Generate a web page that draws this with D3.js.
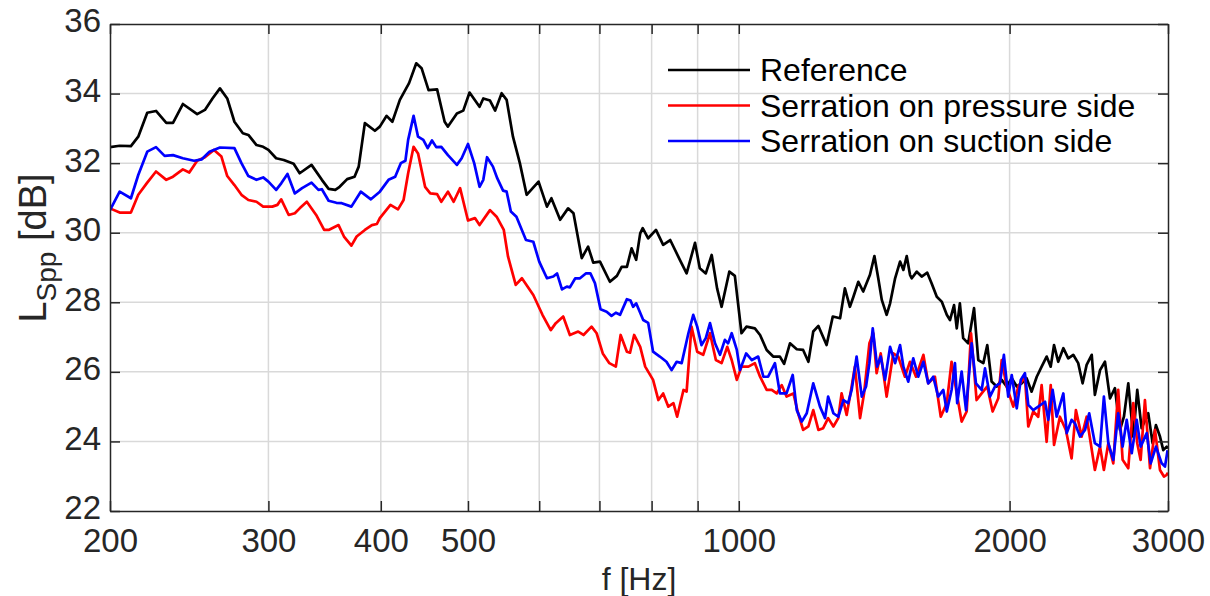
<!DOCTYPE html>
<html>
<head>
<meta charset="utf-8">
<script src="https://cdn.jsdelivr.net/npm/d3@7"></script>
<style>
  html, body { margin: 0; padding: 0; background: #fff; }
  svg { display: block; font-family: 'Liberation Sans', Arial, sans-serif; }
  .grid line { stroke: #d9d9d9; stroke-width: 1.5; }
  .axis path, .axis line { stroke: #262626; stroke-width: 1.5; }
  .axis text { fill: #262626; font-size: 33px; }
  .series { fill: none; stroke-width: 2.7; stroke-linejoin: round; }
</style>
</head>
<body>
<div id="chart"></div>
<script>
/* global d3 */
(function () {
  'use strict'

  // Reference (black)
  var refFreq = [200, 205, 211, 215, 220, 225, 231, 235, 241, 250, 255, 260, 265, 270, 275, 281, 285, 291, 296, 300,
    306, 312, 320, 325, 335, 344, 350, 356, 360, 367, 374, 378, 384, 394, 399, 406, 412, 420, 430, 438,
    444, 452, 462, 471, 475, 486, 494, 502, 515, 520, 529, 536, 545, 552, 561, 571, 581, 599, 612, 619,
    633, 646, 655, 669, 680, 689, 701, 719, 732, 741, 751, 760, 769, 777, 782, 793, 809, 824, 839, 860,
    875, 894, 905, 919, 933, 946, 957, 976, 990, 1007, 1020, 1042, 1056, 1074, 1092, 1111, 1123, 1140, 1160, 1179,
    1195, 1210, 1226, 1252, 1272, 1296, 1312, 1329, 1341, 1358, 1375, 1399, 1415, 1429, 1442, 1460, 1473, 1492, 1511, 1524,
    1537, 1550, 1557, 1577, 1597, 1620, 1638, 1660, 1681, 1703, 1717, 1735, 1747, 1761, 1776, 1799, 1826, 1846, 1870, 1889,
    1910, 1935, 1960, 1985, 2011, 2037, 2063, 2089, 2116, 2144, 2171, 2199, 2222, 2241, 2265, 2295, 2324, 2354, 2384, 2411,
    2436, 2468, 2488, 2521, 2553, 2586, 2619, 2653, 2680, 2710, 2745, 2773, 2804, 2852, 2884, 2909, 2939, 2964, 2990, 3000]
  var refLevel = [32.46, 32.50, 32.49, 32.76, 33.45, 33.50, 33.16, 33.16, 33.70, 33.41, 33.53, 33.86, 34.15, 33.86, 33.19, 32.86, 32.81, 32.52, 32.47, 32.38,
    32.14, 32.09, 31.98, 31.71, 31.95, 31.52, 31.26, 31.23, 31.32, 31.54, 31.61, 31.90, 33.15, 32.93, 33.05, 33.36, 33.19, 33.82, 34.30, 34.87,
    34.73, 34.10, 34.12, 33.19, 33.05, 33.43, 33.51, 34.03, 33.62, 33.86, 33.80, 33.51, 34.01, 33.82, 32.76, 32.00, 31.09, 31.47, 30.75, 30.99,
    30.37, 30.70, 30.56, 29.27, 29.60, 29.14, 29.17, 28.59, 28.76, 29.02, 29.02, 29.55, 29.22, 29.98, 30.13, 29.84, 30.08, 29.65, 29.79, 29.22,
    28.83, 29.71, 28.98, 28.83, 29.36, 28.40, 27.87, 28.88, 28.76, 27.11, 27.30, 27.25, 27.06, 26.63, 26.44, 26.44, 26.23, 26.82, 26.65, 26.63,
    26.29, 27.16, 27.32, 26.77, 27.59, 27.54, 28.40, 27.87, 28.16, 28.59, 28.31, 28.79, 29.33, 28.69, 28.07, 27.64, 27.97, 28.69, 29.17, 28.93,
    29.33, 28.79, 28.69, 28.88, 28.74, 28.85, 28.55, 28.16, 28.02, 27.64, 27.49, 27.92, 27.25, 27.97, 26.97, 26.82, 27.83, 26.34, 26.25, 26.77,
    25.72, 25.58, 25.77, 25.58, 25.82, 25.58, 25.67, 25.82, 25.43, 25.86, 26.15, 26.44, 26.15, 26.77, 26.29, 26.68, 26.39, 26.49, 26.25, 25.67,
    26.20, 26.49, 25.34, 26.05, 26.29, 25.24, 25.53, 24.33, 24.71, 25.67, 24.14, 25.48, 24.38, 24.81, 23.95, 24.47, 24.14, 23.75, 23.85, 23.80]

  // Serration on pressure side (red)
  var pressFreq = [200, 205, 211, 215, 220, 225, 231, 235, 241, 245, 250, 255, 261, 266, 270, 275, 280, 285, 291, 296,
    303, 307, 310, 316, 321, 325, 331, 339, 346, 350, 359, 364, 371, 376, 384, 391, 396, 399, 410, 418,
    424, 429, 435, 440, 448, 454, 462, 467, 475, 482, 490, 500, 509, 515, 529, 538, 548, 554, 565, 574,
    591, 605, 618, 626, 638, 649, 663, 672, 686, 695, 706, 718, 730, 739, 751, 757, 765, 777, 787, 803,
    814, 824, 835, 846, 854, 868, 875, 886, 899, 913, 929, 943, 957, 971, 982, 995, 1007, 1025, 1042, 1056,
    1074, 1088, 1102, 1116, 1130, 1150, 1164, 1179, 1195, 1210, 1226, 1241, 1257, 1274, 1290, 1301, 1318, 1335, 1346, 1364,
    1378, 1397, 1411, 1423, 1438, 1460, 1485, 1504, 1530, 1550, 1574, 1604, 1624, 1652, 1677, 1703, 1724, 1747, 1769, 1792,
    1812, 1838, 1862, 1889, 1915, 1943, 1960, 1985, 2019, 2045, 2080, 2098, 2125, 2152, 2171, 2199, 2222, 2241, 2275, 2310,
    2344, 2370, 2405, 2436, 2488, 2521, 2546, 2575, 2608, 2641, 2671, 2710, 2745, 2773, 2797, 2828, 2865, 2902, 2939, 2969, 2990, 3000]
  var pressLevel = [30.70, 30.58, 30.58, 31.09, 31.44, 31.76, 31.52, 31.61, 31.82, 31.73, 32.07, 32.17, 32.38, 32.19, 31.63, 31.37, 31.09, 30.94, 30.89, 30.75,
    30.75, 30.80, 30.96, 30.51, 30.56, 30.70, 30.89, 30.51, 30.08, 30.08, 30.22, 29.89, 29.63, 29.89, 30.08, 30.22, 30.25, 30.42, 30.80, 30.67,
    30.94, 31.71, 32.47, 32.28, 31.32, 31.13, 31.11, 30.89, 31.18, 30.89, 31.28, 30.35, 30.42, 30.22, 30.65, 30.46, 30.08, 29.31, 28.50, 28.69,
    28.21, 27.64, 27.20, 27.40, 27.59, 27.06, 27.16, 27.06, 27.30, 27.11, 26.53, 26.25, 26.15, 27.06, 26.58, 26.55, 27.06, 26.72, 26.15, 25.77,
    25.19, 25.38, 25.00, 25.10, 24.71, 25.48, 25.43, 27.30, 26.58, 26.49, 27.11, 26.34, 26.25, 26.72, 26.34, 25.77, 26.15, 26.15, 26.25, 25.86,
    25.48, 25.48, 25.38, 25.62, 25.29, 25.38, 24.81, 24.33, 24.43, 24.90, 24.33, 24.38, 24.67, 24.43, 24.67, 25.38, 24.76, 25.58, 26.15, 24.67,
    25.38, 26.82, 27.11, 25.96, 26.53, 25.29, 26.53, 26.44, 25.86, 26.29, 25.86, 26.49, 25.67, 25.86, 24.71, 25.10, 26.29, 25.38, 24.57, 24.86,
    27.11, 25.19, 25.38, 25.58, 24.86, 25.24, 26.34, 25.58, 25.00, 25.58, 25.86, 24.43, 24.86, 24.71, 25.62, 23.99, 25.62, 23.90, 24.71, 24.33,
    23.51, 24.90, 24.14, 24.71, 23.18, 23.85, 23.18, 23.95, 23.37, 25.48, 23.47, 23.23, 25.10, 23.95, 23.47, 25.19, 23.23, 24.33, 23.18, 22.99, 23.04, 23.10]

  // Serration on suction side (blue)
  var suctFreq = [200, 205, 211, 215, 220, 225, 230, 235, 241, 248, 253, 258, 265, 275, 280, 285, 291, 296, 300, 306,
    310, 315, 321, 327, 335, 341, 344, 350, 357, 362, 371, 380, 390, 399, 408, 415, 421, 426, 429, 435,
    440, 446, 451, 456, 461, 467, 475, 486, 492, 500, 508, 515, 520, 525, 533, 539, 547, 552, 558, 566,
    580, 591, 600, 612, 622, 628, 636, 644, 649, 658, 666, 676, 684, 692, 702, 713, 722, 730, 738, 751,
    758, 763, 769, 783, 793, 803, 817, 831, 842, 853, 864, 879, 890, 899, 909, 919, 929, 941, 953, 965,
    973, 982, 995, 1003, 1019, 1034, 1051, 1065, 1078, 1097, 1111, 1130, 1148, 1160, 1175, 1190, 1210, 1231, 1247, 1257,
    1274, 1290, 1307, 1323, 1335, 1352, 1370, 1385, 1397, 1409, 1425, 1438, 1454, 1473, 1492, 1511, 1524, 1543, 1563, 1583,
    1604, 1624, 1645, 1666, 1688, 1703, 1724, 1739, 1749, 1769, 1789, 1815, 1835, 1862, 1878, 1902, 1927, 1951, 1971, 1993,
    2011, 2037, 2058, 2080, 2098, 2125, 2152, 2190, 2208, 2233, 2256, 2295, 2315, 2344, 2364, 2395, 2426, 2452, 2488, 2521,
    2546, 2575, 2608, 2641, 2671, 2699, 2734, 2769, 2797, 2841, 2870, 2909, 2952, 2977, 2997]
  var suctLevel = [30.65, 31.18, 30.99, 31.66, 32.33, 32.46, 32.21, 32.23, 32.14, 32.07, 32.11, 32.33, 32.45, 32.43, 32.00, 31.63, 31.52, 31.59, 31.47, 31.23,
    31.42, 31.69, 31.13, 31.28, 31.44, 31.23, 31.25, 30.92, 30.86, 30.85, 30.75, 31.18, 30.96, 31.18, 31.52, 31.61, 32.00, 32.07, 32.67, 33.36,
    32.76, 32.67, 32.43, 32.65, 32.46, 32.47, 32.23, 31.95, 32.14, 32.55, 32.00, 31.32, 31.52, 32.17, 31.90, 31.56, 31.21, 31.18, 30.61, 30.46,
    29.79, 29.74, 29.17, 28.69, 28.74, 28.83, 28.37, 28.45, 28.43, 28.69, 28.69, 28.83, 28.83, 28.55, 27.80, 27.73, 27.61, 27.70, 27.64, 28.09,
    28.05, 27.87, 27.97, 27.49, 27.41, 26.58, 26.44, 26.29, 26.05, 26.29, 26.25, 27.11, 27.64, 27.30, 26.77, 26.97, 27.40, 26.82, 26.49, 26.92,
    26.82, 27.11, 26.63, 26.05, 26.53, 26.34, 26.44, 25.86, 25.86, 26.25, 25.38, 25.38, 25.91, 24.90, 24.57, 24.81, 25.67, 25.00, 24.67, 25.29,
    24.81, 24.71, 25.19, 25.10, 25.48, 26.44, 25.29, 25.58, 26.25, 27.25, 26.15, 26.44, 25.77, 26.72, 26.25, 26.77, 26.15, 25.72, 26.39, 25.86,
    26.29, 25.67, 25.86, 25.29, 25.48, 24.86, 25.48, 26.25, 25.10, 26.01, 24.90, 26.82, 25.67, 25.48, 26.10, 25.29, 25.58, 25.67, 26.49, 25.29,
    25.91, 24.95, 25.77, 25.96, 25.05, 24.90, 25.00, 25.14, 24.62, 25.48, 24.71, 25.38, 24.24, 24.62, 24.52, 24.14, 24.33, 24.81, 23.95, 23.85,
    25.29, 23.95, 23.47, 24.81, 23.85, 24.62, 23.66, 24.62, 23.85, 24.24, 23.37, 23.85, 23.37, 23.28, 23.75]

  var seriesNames = ['Reference', 'Serration on pressure side', 'Serration on suction side']
  var seriesColors = ['#000000', '#ff0000', '#0000ff']

  // Axis ticks
  var xTicks = [200, 300, 400, 500, 600, 700, 800, 900, 1000, 2000, 3000]
  var xTickLabels = ['200', '300', '400', '500', '', '', '', '', '1000', '2000', '3000']
  var yTicks = [22, 24, 26, 28, 30, 32, 34, 36]

  var dims = { w: 1210, h: 596 }
  var box = { left: 110, top: 24, right: 1168, bottom: 511 }

  var svg = d3.select('#chart').append('svg')
    .attr('width', dims.w)
    .attr('height', dims.h)

  var x = d3.scaleLog().domain([200, 3000]).range([box.left, box.right])
  var y = d3.scaleLinear().domain([22, 36]).range([box.bottom, box.top])

  // Grid
  var grid = svg.append('g').attr('class', 'grid')
  grid.selectAll('.gx').data(xTicks.slice(1, -1)).enter().append('line')
    .attr('x1', function (d) { return x(d) }).attr('x2', function (d) { return x(d) })
    .attr('y1', box.top).attr('y2', box.bottom)
  grid.selectAll('.gy').data(yTicks.slice(1, -1)).enter().append('line')
    .attr('x1', box.left).attr('x2', box.right)
    .attr('y1', function (d) { return y(d) }).attr('y2', function (d) { return y(d) })

  // Series
  svg.append('clipPath').attr('id', 'clip').append('rect')
    .attr('x', box.left).attr('y', box.top)
    .attr('width', box.right - box.left).attr('height', box.bottom - box.top)

  var series = [
    { f: refFreq, v: refLevel },
    { f: pressFreq, v: pressLevel },
    { f: suctFreq, v: suctLevel }
  ]
  var line = d3.line()
    .x(function (d) { return x(d[0]) })
    .y(function (d) { return y(d[1]) })

  var plot = svg.append('g').attr('clip-path', 'url(#clip)')
  series.forEach(function (s, i) {
    plot.append('path')
      .datum(d3.zip(s.f, s.v))
      .attr('class', 'series')
      .attr('stroke', seriesColors[i])
      .attr('d', line)
  })

  // Axes (inward ticks on all four sides)
  var fmtX = function (d) { return xTickLabels[xTicks.indexOf(d)] }
  svg.append('g').attr('class', 'axis')
    .attr('transform', 'translate(0,' + box.bottom + ')')
    .call(d3.axisBottom(x).tickValues(xTicks).tickFormat(fmtX).tickSizeInner(-10).tickSizeOuter(0).tickPadding(18))
  svg.append('g').attr('class', 'axis')
    .attr('transform', 'translate(0,' + box.top + ')')
    .call(d3.axisTop(x).tickValues(xTicks).tickFormat('').tickSizeInner(-10).tickSizeOuter(0))
  var yAxis = svg.append('g').attr('class', 'axis')
    .attr('transform', 'translate(' + box.left + ',0)')
    .call(d3.axisLeft(y).tickValues(yTicks).tickFormat(d3.format('d')).tickSizeInner(-10).tickSizeOuter(0).tickPadding(9))
  yAxis.selectAll('text').attr('dy', '0.24em')
  svg.append('g').attr('class', 'axis')
    .attr('transform', 'translate(' + box.right + ',0)')
    .call(d3.axisRight(y).tickValues(yTicks).tickFormat('').tickSizeInner(-10).tickSizeOuter(0))

  // Axis labels
  svg.append('text')
    .attr('x', (box.left + box.right) / 2).attr('y', 590)
    .attr('text-anchor', 'middle')
    .attr('font-size', 32).attr('fill', '#262626')
    .text('f [Hz]')

  var yl = svg.append('text')
    .attr('transform', 'translate(46,248) rotate(-90)')
    .attr('text-anchor', 'middle')
    .attr('font-size', 38).attr('fill', '#262626')
  yl.append('tspan').text('L')
  yl.append('tspan').attr('font-size', 28).attr('dy', 10).text('Spp')
  yl.append('tspan').attr('dy', -10).text(' [dB]')

  // Legend
  var legend = svg.append('g').attr('transform', 'translate(668,70)')
  seriesNames.forEach(function (name, i) {
    var row = legend.append('g').attr('transform', 'translate(0,' + (i * 35.5) + ')')
    row.append('line')
      .attr('x1', 0).attr('x2', 82).attr('y1', 0).attr('y2', 0)
      .attr('stroke', seriesColors[i]).attr('stroke-width', 2.4)
    row.append('text')
      .attr('x', 92).attr('y', 11)
      .attr('font-size', 32).attr('fill', '#000')
      .text(name)
  })
}())
</script>
</body>
</html>
